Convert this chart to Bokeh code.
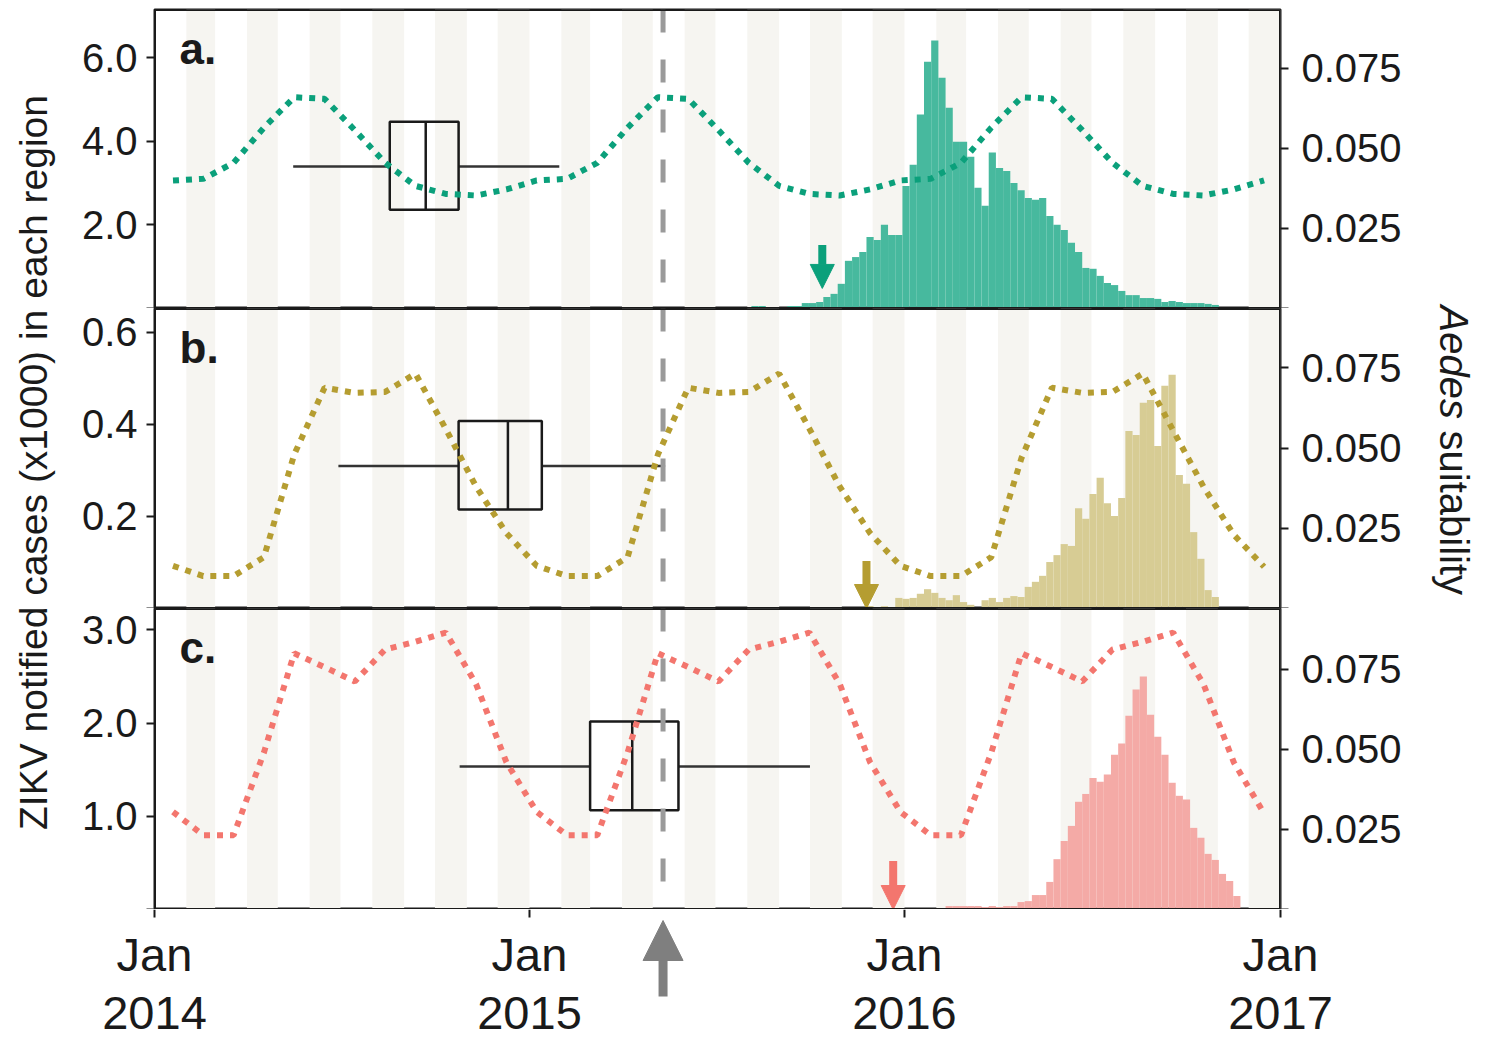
import math
import pandas as pd
from bokeh.plotting import figure
from bokeh.models import (Range1d, LinearAxis, FixedTicker, NumeralTickFormatter, Span,
                          Label, Arrow, NormalHead, BoxAnnotation)
from bokeh.core.properties import value
from bokeh.layouts import row, column
from bokeh.embed import file_html
from bokeh.resources import INLINE

# ---------------- data ----------------
x_start = "2014-01-01"
x_end = "2017-01-01"
intro_date = "2015-05-11"            # dashed line / grey arrow
first_case = {"a": "2015-10-13", "b": "2015-11-25", "c": "2015-12-21"}

week_start = pd.date_range("2015-08-05", periods=68, freq="7D")
cases_a = [0.06, 0.06, 0.03, 0.01, 0.03, 0.06, 0.06, 0.13, 0.13, 0.155,
           0.275, 0.35, 0.59, 1.14, 1.23, 1.35, 1.71, 1.64, 2.0, 1.76,
           1.76, 2.93, 3.44, 4.64, 5.9, 6.41, 5.52, 4.8, 3.99, 3.99,
           3.63, 2.89, 2.46, 3.73, 3.36, 3.29, 3.0, 2.83, 2.64, 2.6,
           2.64, 2.21, 2.0, 1.88, 1.57, 1.35, 0.97, 0.95, 0.78, 0.61,
           0.56, 0.42, 0.32, 0.32, 0.25, 0.25, 0.23, 0.155, 0.18, 0.155,
           0.13, 0.13, 0.13, 0.11, 0.085, 0.035, 0.01, 0.0]
cases_b = [0.0] * 14 + [
           0.003, 0.003, 0.005, 0.002, 0.005, 0.002, 0.023, 0.021, 0.023, 0.032,
           0.042, 0.034, 0.023, 0.018, 0.029, 0.014, 0.008, 0.0, 0.018, 0.023,
           0.014, 0.023, 0.027, 0.025, 0.047, 0.058, 0.071, 0.101, 0.116, 0.14,
           0.136, 0.218, 0.195, 0.249, 0.284, 0.229, 0.201, 0.24, 0.386, 0.377,
           0.447, 0.453, 0.353, 0.484, 0.508, 0.29, 0.271, 0.166, 0.108, 0.04,
           0.025] + [0.0] * 3
cases_c = [0.0] * 23 + [
           0.005, 0.0, 0.0, 0.016, 0.037, 0.037, 0.037, 0.037, 0.037, 0.027,
           0.037, 0.027, 0.037, 0.037, 0.08, 0.09, 0.155, 0.155, 0.296, 0.54,
           0.735, 0.897, 1.156, 1.24, 1.41, 1.37, 1.45, 1.66, 1.78, 2.08,
           2.36, 2.5, 2.09, 1.855, 1.66, 1.36, 1.22, 1.18, 0.876, 0.77,
           0.597, 0.532, 0.382, 0.306, 0.145]

suit_dates = pd.date_range("2014-01-19", "2016-12-16", periods=37)
suit_a = [0.040, 0.0405, 0.0455, 0.0565, 0.066, 0.0655, 0.0557, 0.0455, 0.0383, 0.0358, 0.0353, 0.0372,
          0.040, 0.0405, 0.0455, 0.0565, 0.066, 0.0655, 0.0557, 0.0455, 0.0383, 0.0358, 0.0353, 0.0372,
          0.040, 0.0405, 0.0455, 0.0565, 0.066, 0.0655, 0.0557, 0.0455, 0.0383, 0.0358, 0.0353, 0.0372,
          0.040]
suit_b = [0.0133, 0.0101, 0.0101, 0.0160, 0.048, 0.0688, 0.0672, 0.0675, 0.0732, 0.056, 0.038, 0.0235,
          0.0133, 0.0101, 0.0101, 0.0160, 0.048, 0.0688, 0.0672, 0.0675, 0.0732, 0.056, 0.038, 0.0235,
          0.0133, 0.0101, 0.0101, 0.0160, 0.047, 0.0688, 0.0672, 0.0675, 0.0732, 0.0555, 0.038, 0.023,
          0.0130]
suit_c = [0.0305, 0.0232, 0.0232, 0.049, 0.080, 0.0757, 0.0712, 0.0812, 0.0836, 0.0865, 0.0704, 0.046,
          0.0305, 0.0232, 0.0232, 0.049, 0.080, 0.0757, 0.0712, 0.0812, 0.0836, 0.0865, 0.0704, 0.046,
          0.0305, 0.0232, 0.0232, 0.049, 0.080, 0.0757, 0.0712, 0.0812, 0.0836, 0.0865, 0.0704, 0.046,
          0.030]

# box plots: [lower whisker, q1, median, q3, upper whisker]
box_a = ["2014-05-16", "2014-08-18", "2014-09-22", "2014-10-24", "2015-01-30"]
box_b = ["2014-06-29", "2014-10-24", "2014-12-11", "2015-01-13", "2015-05-13"]
box_c = ["2014-10-25", "2015-03-01", "2015-04-11", "2015-05-26", "2015-10-01"]

left_ticks_a = [2.0, 4.0, 6.0]
left_ticks_b = [0.2, 0.4, 0.6]
left_ticks_c = [1.0, 2.0, 3.0]
right_ticks = [0.025, 0.050, 0.075]
year_ticks = pd.to_datetime(["2014-01-01", "2015-01-01", "2016-01-01", "2017-01-01"])
stripe_start = pd.date_range("2014-02-01", "2016-12-01", freq="2MS")
stripe_end = stripe_start + pd.DateOffset(months=1)

# ---------------- styling ----------------
FONT = "Liberation Sans"
INK = "#1a1a1a"
STRIPE = "#F6F5F1"
FW = 1126            # frame width
ML, MR = 96, 140     # side borders of the panels
LW, RW = 58, 68      # widths of the side title strips
BAND = 128           # height of the date band under the panels


def ms(d):
    return pd.Timestamp(d).timestamp() * 1000.0


xr = Range1d(pd.Timestamp(x_start), pd.Timestamp(x_end))


def style_axis(ax, ticks, fmt):
    ax.ticker = FixedTicker(ticks=ticks, minor_ticks=[0.0])
    ax.formatter = NumeralTickFormatter(format=fmt)
    ax.axis_line_color = None
    ax.major_tick_in = 0
    ax.major_tick_out = 8
    ax.minor_tick_in = 0
    ax.minor_tick_out = 8
    ax.major_tick_line_width = 2
    ax.minor_tick_line_width = 2
    ax.major_tick_line_color = INK
    ax.minor_tick_line_color = INK
    ax.major_label_text_font = FONT
    ax.major_label_text_font_size = "40px"
    ax.major_label_text_color = INK


def panel(tag, cases, suit, box, ymax, smax, lticks, line_col, bar_col,
          frame_h, top_b, arrow_y):
    p = figure(frame_width=FW, frame_height=frame_h, x_range=xr, y_range=Range1d(0, ymax),
               x_axis_type="datetime", x_axis_location=None,
               output_backend="svg", toolbar_location=None,
               min_border_left=ML, min_border_right=MR, min_border_top=top_b,
               min_border_bottom=0)
    p.extra_y_ranges = {"suit": Range1d(0, smax)}
    p.grid.visible = False
    p.outline_line_color = INK
    p.outline_line_width = 2
    p.background_fill_color = "white"
    p.border_fill_color = "white"

    style_axis(p.yaxis[0], lticks, "0.0")
    p.yaxis[0].major_label_standoff = 9
    rax = LinearAxis(y_range_name="suit")
    style_axis(rax, right_ticks, "0.000")
    rax.major_label_standoff = 13
    p.add_layout(rax, "right")

    # month stripes
    p.quad(left=stripe_start, right=stripe_end, bottom=0, top=ymax,
           fill_color=STRIPE, line_color=None)
    # weekly cases
    p.quad(left=week_start, right=week_start + pd.Timedelta(days=7), bottom=0, top=cases,
           fill_color=bar_col, line_color=None)
    # box plot
    lo, q1, med, q3, hi = [pd.Timestamp(d) for d in box]
    bb, bt, bm = 0.33 * ymax, 0.625 * ymax, 0.475 * ymax
    p.segment(x0=[lo, q3], y0=[bm, bm], x1=[q1, hi], y1=[bm, bm],
              line_color="#333333", line_width=2.5)
    p.quad(left=[q1], right=[q3], bottom=[bb], top=[bt], fill_color=None,
           line_color=INK, line_width=2.5)
    p.segment(x0=[med], y0=[bb], x1=[med], y1=[bt], line_color=INK, line_width=2.5)
    # suitability
    p.line(x=suit_dates, y=suit, y_range_name="suit", line_color=line_col,
           line_width=6, line_dash="6 7")
    # introduction date
    p.add_layout(Span(location=ms(intro_date), dimension="height", line_color="#9a9a9a",
                      line_width=5, line_dash="23 27"))
    # first case arrow
    fx = ms(first_case[tag])
    p.add_layout(Arrow(end=NormalHead(size=24, fill_color=line_col, line_color=line_col, line_width=1),
                       x_start=fx, y_start=arrow_y[0], x_end=fx, y_end=arrow_y[1],
                       line_color=line_col, line_width=8))
    # panel letter
    p.add_layout(Label(x=25, y=frame_h - 63, x_units="screen", y_units="screen",
                       text=tag + ".", text_font=FONT, text_font_size="44px",
                       text_font_style="bold", text_color=INK))
    # solid frame border drawn above the stripes and bars
    p.add_layout(BoxAnnotation(fill_color=None, fill_alpha=0, line_color=INK, line_width=3,
                               line_alpha=1))
    return p


pa = panel("a", cases_a, suit_a, box_a, 7.15, 0.0934, left_ticks_a, "#0BA07B", "#47B99E",
           299, 9, (1.52, 0.48))
pb = panel("b", cases_b, suit_b, box_b, 0.652, 0.0935, left_ticks_b, "#B59D31", "#D7CC94",
           300, 0, (0.103, 0.0))
pc = panel("c", cases_c, suit_c, box_c, 3.23, 0.094, left_ticks_c, "#F3766E", "#F4AAA6",
           301, 0, (0.52, 0.0))

# ---- side titles ----
PH = 9 + 299 + 300 + 301
lab = figure(width=LW, height=PH, x_range=(0, LW), y_range=(0, PH), output_backend="svg",
             toolbar_location=None, x_axis_location=None, y_axis_location=None,
             min_border=0, outline_line_color=None)
lab.grid.visible = False
lab.add_layout(Label(x=33, y=PH - 462, text="ZIKV notified cases (x1000) in each region",
                     angle=math.pi / 2, text_align="center", text_baseline="alphabetic",
                     text_font=FONT, text_font_size="39px", text_color=INK))

rlab = figure(width=RW, height=PH, x_range=(0, RW), y_range=(0, PH), output_backend="svg",
              toolbar_location=None, x_axis_location=None, y_axis_location=None,
              min_border=0, outline_line_color=None)
rlab.grid.visible = False
rlab.add_layout(Label(x=33, y=PH - 305, text="Aedes", angle=-math.pi / 2,
                      text_align="left", text_baseline="alphabetic", text_font=FONT,
                      text_font_size="40px", text_font_style="italic", text_color=INK))
rlab.add_layout(Label(x=33, y=PH - 430, text="suitability", angle=-math.pi / 2,
                      text_align="left", text_baseline="alphabetic", text_font=FONT,
                      text_font_size="40px", text_color=INK))

# ---- date band under the panels (full page width): year ticks, labels, grey arrow ----
TW = LW + ML + FW + MR + RW
px = (ms(x_end) - ms(x_start)) / FW
band = figure(frame_width=TW, frame_height=BAND,
              x_range=Range1d(ms(x_start) - (LW + ML) * px, ms(x_end) + (MR + RW) * px),
              y_range=Range1d(0, BAND), output_backend="svg", toolbar_location=None,
              x_axis_location=None, y_axis_location=None, min_border=0,
              outline_line_color=None)
band.grid.visible = False
band.segment(x0=year_ticks, y0=BAND, x1=year_ticks, y1=BAND - 8, line_color=INK, line_width=2)
band.text(x=year_ticks, y=BAND - 45, text=[d.strftime("%b") for d in year_ticks],
          text_align="center", text_baseline="alphabetic", text_font=value(FONT),
          text_font_size="47px", text_color=INK)
band.text(x=year_ticks, y=BAND - 103, text=[d.strftime("%Y") for d in year_ticks],
          text_align="center", text_baseline="alphabetic", text_font=value(FONT),
          text_font_size="47px", text_color=INK)
ix = ms(intro_date)
band.add_layout(Arrow(end=NormalHead(size=40, fill_color="#7f7f7f", line_color="#7f7f7f", line_width=1),
                      x_start=ix, y_start=BAND - 87, x_end=ix, y_end=BAND - 11,
                      line_color="#7f7f7f", line_width=9))

layout = column(row(lab, column(pa, pb, pc), rlab), band)
open("out.html", "w").write(file_html(layout, INLINE))
